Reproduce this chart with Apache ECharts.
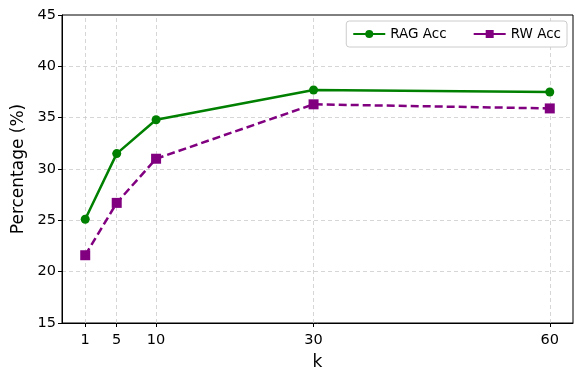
<!DOCTYPE html>
<html><head><meta charset="utf-8">
<script src="https://cdn.jsdelivr.net/npm/echarts@6/dist/echarts.min.js"></script>
<style>html,body{margin:0;padding:0;background:#fff}#c{width:574px;height:374px}</style>
</head><body><div id="c"></div>
<script>
const kValues = [1, 5, 10, 30, 60];
const ragAcc = [25.1, 31.5, 34.8, 37.7, 37.5];
const rwAcc = [21.6, 26.7, 31.0, 36.3, 35.9];

const chart = echarts.init(document.getElementById('c'), null, {renderer: 'canvas'});
const font = 'DejaVu Sans';
const gridLine = {color: '#cccccc', type: [4, 3], width: 0.8};
chart.setOption({
  animation: false,
  textStyle: {fontFamily: font},
  grid: {left: 62, right: 1, top: 15, bottom: 51, containLabel: false, outerBoundsMode: 'none',
         show: true, borderColor: '#000', borderWidth: 1, backgroundColor: 'transparent'},
  legend: {
    right: 7, top: 21, orient: 'horizontal',
    data: ['RAG Acc', 'RW Acc'],
    itemWidth: 32, itemHeight: 10, itemGap: 26,
    lineStyle: {type: 'solid'},
    textStyle: {fontFamily: font, fontSize: 13.5, color: '#000'},
    borderColor: '#cccccc', borderWidth: 1, borderRadius: 3,
    padding: [6, 6, 6, 6], backgroundColor: '#fff'
  },
  xAxis: {
    type: 'value', min: -1.95, max: 62.95,
    name: 'k', nameLocation: 'middle', nameGap: 31,
    nameTextStyle: {fontFamily: font, fontSize: 17, color: '#000'},
    axisLine: {show: true, onZero: false, lineStyle: {color: '#000', width: 1}},
    axisTick: {show: true, customValues: kValues, length: 4, lineStyle: {color: '#000'}},
    axisLabel: {customValues: kValues, fontFamily: font, fontSize: 14.5, color: '#000', margin: 10},
    splitLine: {show: false}
  },
  yAxis: {
    type: 'value', min: 15, max: 45, interval: 5,
    name: 'Percentage (%)', nameLocation: 'middle', nameGap: 30,
    nameTextStyle: {fontFamily: font, fontSize: 17, color: '#000'},
    axisLine: {show: true, onZero: false, lineStyle: {color: '#000', width: 1}},
    axisTick: {show: true, length: 4, lineStyle: {color: '#000'}},
    axisLabel: {fontFamily: font, fontSize: 14.5, color: '#000', margin: 6},
    splitLine: {show: true, showMinLine: false, showMaxLine: false, lineStyle: gridLine}
  },
  series: [
    {
      name: 'RAG Acc', type: 'line', z: 3,
      data: kValues.map((k, i) => [k, ragAcc[i]]),
      symbol: 'circle', symbolSize: 9,
      itemStyle: {color: '#008000'},
      lineStyle: {color: '#008000', width: 2.5},
      markLine: {
        silent: true, symbol: 'none', label: {show: false}, z: 1,
        lineStyle: gridLine,
        data: kValues.map(k => ({xAxis: k}))
      }
    },
    {
      name: 'RW Acc', type: 'line', z: 3,
      data: kValues.map((k, i) => [k, rwAcc[i]]),
      symbol: 'rect', symbolSize: 10,
      itemStyle: {color: '#800080'},
      lineStyle: {color: '#800080', width: 2.5, type: [8, 4]}
    }
  ]
});
</script></body></html>
